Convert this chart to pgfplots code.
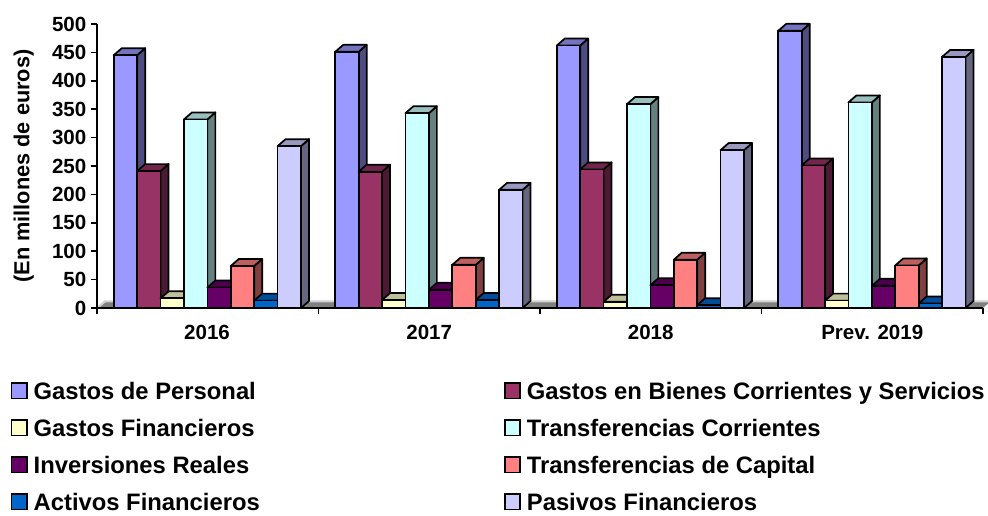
\documentclass[border=0pt]{standalone}
\usepackage{pgfplots}
\pgfplotsset{compat=1.18}
\usepackage{fontspec}
\setmainfont{Liberation Sans}
\definecolor{fa}{HTML}{9999FF}\definecolor{sa}{HTML}{4D4D80}\definecolor{ta}{HTML}{7373BF}
\definecolor{fb}{HTML}{993366}\definecolor{sb}{HTML}{4D1A33}\definecolor{tb}{HTML}{73264D}
\definecolor{fc}{HTML}{FFFFCC}\definecolor{sc}{HTML}{808066}\definecolor{tc}{HTML}{BFBF99}
\definecolor{fd}{HTML}{CCFFFF}\definecolor{sd}{HTML}{668080}\definecolor{td}{HTML}{99BFBF}
\definecolor{fe}{HTML}{660066}\definecolor{se}{HTML}{330033}\definecolor{te}{HTML}{4D004D}
\definecolor{ff}{HTML}{FF8080}\definecolor{sf}{HTML}{804040}\definecolor{tf}{HTML}{BF6060}
\definecolor{fg}{HTML}{0066CC}\definecolor{sg}{HTML}{003366}\definecolor{tg}{HTML}{004D99}
\definecolor{fh}{HTML}{CCCCFF}\definecolor{sh}{HTML}{666680}\definecolor{th}{HTML}{9999BF}
% one 3-D bar: side and top faces behind the front face
\newcommand\caras[4]{% group, series index, value, colour key
  \pgfmathsetmacro\xl{#1+0.0755+#2*0.1057}%
  \pgfmathsetmacro\xr{\xl+0.1057}%
  \pgfmathsetmacro\xL{\xl+0.0361}%
  \pgfmathsetmacro\xR{\xr+0.0361}%
  \pgfmathsetmacro\vt{#3+12.3}%
  \addplot[forget plot,fill=s#4,draw=black,line width=1.3pt,line join=round] coordinates {(\xr,0) (\xR,12.3) (\xR,\vt) (\xr,#3)} -- cycle;
  \addplot[forget plot,fill=t#4,draw=black,line width=1.3pt,line join=round] coordinates {(\xl,#3) (\xL,\vt) (\xR,\vt) (\xr,#3)} -- cycle;
}
\newcommand\serie[6]{% index, key, four values
  \caras{0}{#1}{#3}{#2}\caras{1}{#1}{#4}{#2}\caras{2}{#1}{#5}{#2}\caras{3}{#1}{#6}{#2}%
  \pgfmathsetmacro\xa{0+0.0755+(#1+0.5)*0.1057}%
  \pgfmathsetmacro\xb{1+0.0755+(#1+0.5)*0.1057}%
  \pgfmathsetmacro\xc{2+0.0755+(#1+0.5)*0.1057}%
  \pgfmathsetmacro\xd{3+0.0755+(#1+0.5)*0.1057}%
  \addplot[ybar,bar width=0.1057,bar shift=0pt,fill=f#2,draw=black,line width=1.3pt] coordinates {(\xa,#3) (\xb,#4) (\xc,#5) (\xd,#6)};
}
\begin{document}
\begin{tikzpicture}
\path[use as bounding box] (0,0) rectangle (741pt,386.25pt);
\begin{axis}[
  at={(72.75pt,155.25pt)},anchor=south west,
  scale only axis,width=664.5pt,height=213pt,
  xmin=0,xmax=4,ymin=0,ymax=500,clip=false,
  axis x line=bottom,axis y line=left,
  axis line style={line width=1.3pt,-},
  axis on top,
  tick style={line width=1.3pt,black},
  tick align=outside,
  major tick length=4.5pt,
  ytick={0,50,...,500},
  xtick={0,1,2,3,4},xticklabels={},
  extra x ticks={0.497,1.5,2.5,3.5},
  extra x tick labels={2016,2017,2018,Prev. 2019},
  extra x tick style={major tick length=0pt,tick style={draw=none},
    xticklabel style={yshift=-9.5pt}},
  tick label style={font=\fontsize{15.4}{17}\selectfont\bfseries},
  /pgf/number format/assume math mode=true,
  ylabel={(En millones de euros)},
  every axis y label/.style={at={(axis description cs:0,0.5)},xshift=-55pt,rotate=90,anchor=center,font=\fontsize{16.3}{18}\selectfont\bfseries},
  legend columns=2,
  legend cell align=left,
  legend style={at={(-65pt,-53.5pt)},anchor=north west,draw=none,fill=none,
    font=\fontsize{17.85}{20}\selectfont\bfseries,
    /tikz/every even column/.style={column sep=181pt},
    row sep=9.3pt,inner sep=0pt},
  legend image code/.code={\draw[#1,line width=1.3pt] (0pt,-5pt) rectangle (11.5pt,6.5pt); \path (14pt,0pt);},
]
\addplot[forget plot,fill=gray,draw=none] coordinates {(0,0) (0.0361,12.3) (4.0361,12.3) (4,0)} -- cycle;
\addplot[forget plot,draw=black!18,line width=1.5pt] coordinates {(0.004,1) (0.0361,11.5) (4.0361,11.5)};
\serie{0}{a}{445}{451}{462}{488}
\serie{1}{b}{241}{240}{244}{251}
\serie{2}{c}{17}{14}{11}{13}
\serie{3}{d}{332}{343}{359}{362}
\serie{4}{e}{36}{32}{40}{39}
\serie{5}{f}{74}{76}{85}{75}
\serie{6}{g}{13}{14}{5}{8}
\serie{7}{h}{285}{208}{278}{442}
\legend{Gastos de Personal,Gastos en Bienes Corrientes y Servicios,Gastos Financieros,Transferencias Corrientes,Inversiones Reales,Transferencias de Capital,Activos Financieros,Pasivos Financieros}
\end{axis}
\end{tikzpicture}
\end{document}
